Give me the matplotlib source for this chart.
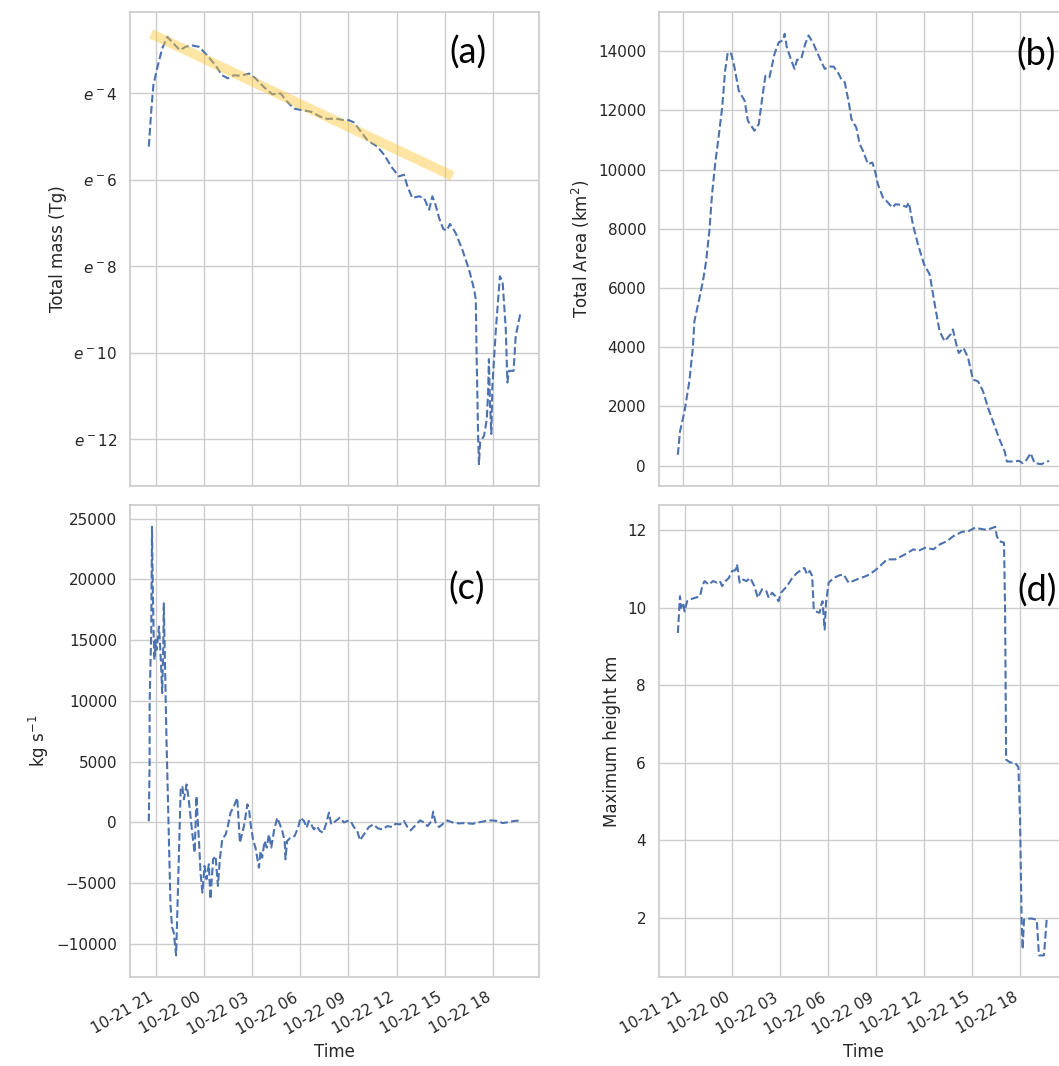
import numpy as np
import matplotlib
matplotlib.use("Agg")
import matplotlib.pyplot as plt
import matplotlib.dates as mdates
from matplotlib.ticker import MultipleLocator, FuncFormatter
import seaborn as sns

# ---------------------------------------------------------------------------
# Data (hours after 2019-10-21 21:00)
# ---------------------------------------------------------------------------
mass_hours = [-0.42, -0.27, -0.14, 0.10, 0.42, 0.73, 1.04, 1.51, 1.87, 2.28, 2.70,
              3.22, 3.73, 4.15, 4.50, 4.87, 5.29, 5.81, 6.22, 6.74, 7.26, 7.78,
              8.19, 8.61, 9.02, 9.65, 10.27, 10.68, 11.20, 11.72, 12.03, 12.34,
              12.76, 13.17, 13.80, 14.21, 14.73, 15.14, 15.45, 15.66, 15.97,
              16.39, 16.70, 17.01, 17.22, 17.42, 17.63, 17.90, 18.11, 18.31,
              18.67, 19.09, 19.50, 19.81, 19.91, 19.97, 20.06, 20.12, 20.18,
              20.43, 20.60, 20.68, 20.74, 20.80, 20.89, 20.95, 21.16, 21.41,
              21.58, 21.78, 21.89, 21.99, 22.26, 22.40, 22.71]
ln_mass = [-5.23, -4.42, -3.81, -3.42, -2.96, -2.69, -2.81, -3.00, -2.92, -2.89, -2.92,
           -3.12, -3.35, -3.58, -3.65, -3.58, -3.59, -3.54, -3.65, -3.85, -4.02, -4.00,
           -4.19, -4.35, -4.38, -4.42, -4.54, -4.59, -4.58, -4.62, -4.62, -4.67,
           -4.88, -5.08, -5.23, -5.42, -5.73, -5.92, -5.88, -6.15, -6.42,
           -6.38, -6.42, -6.69, -6.38, -6.58, -6.88, -7.14, -7.17, -7.02,
           -7.23, -7.62, -8.08, -8.54, -8.77, -10.00, -12.00, -12.58, -12.08,
           -11.92, -11.54, -10.92, -10.15, -11.15, -11.88, -10.77, -9.46, -8.23,
           -8.35, -9.46, -10.69, -10.42, -10.42, -9.62, -9.04]

# exponential decay guide for the mass panel
fit_hours = [-0.27, 18.46]
fit_ln_mass = [-2.62, -5.91]

area_hours = [-0.35, -0.21, 0.06, 0.37, 0.58, 0.69, 1.00, 1.21, 1.42, 1.62, 1.79,
              2.00, 2.21, 2.42, 2.60, 2.77, 2.98, 3.19, 3.45, 3.81, 4.02, 4.43,
              4.70, 4.95, 5.12, 5.37, 5.68, 5.95, 6.20, 6.31, 6.45, 6.73, 6.93,
              7.08, 7.35, 7.60, 7.81, 8.12, 8.39, 8.81, 9.12, 9.37, 9.64, 9.85,
              10.06, 10.33, 10.48, 10.79, 11.00, 11.20, 11.51, 11.78, 11.93,
              12.14, 12.45, 12.76, 13.04, 13.24, 13.60, 13.91, 14.07, 14.32,
              14.63, 15.01, 15.37, 15.68, 15.99, 16.30, 16.66, 16.82, 17.03,
              17.19, 17.49, 17.76, 18.07, 18.38, 18.70, 19.01, 19.32, 19.74,
              20.05, 20.19, 20.57, 20.94, 21.19, 21.41, 21.66, 21.92, 22.34,
              22.61, 22.82]
area_km2 = [362, 1152, 1829, 2846, 3974, 4878, 5667, 6233, 6911, 7927, 9170,
            10298, 11202, 12104, 13347, 13967, 13912, 13459, 12669, 12330, 11653, 11314,
            11540, 12557, 13177, 13120, 13912, 14306, 14363, 14590, 14136, 13685, 13404,
            13709, 13743, 14251, 14533, 14251, 13912, 13404, 13482, 13482, 13290, 13064,
            12951, 12219, 11711, 11427, 10864, 10637, 10186, 10240, 10017,
            9509, 9055, 8886, 8717, 8830, 8808, 8740, 8886, 8154,
            7476, 6799, 6460, 5444, 4539, 4201, 4427, 4597, 4089,
            3804, 3974, 3635, 2903, 2846, 2507, 1941, 1491, 871,
            474, 136, 136, 158, 79, 192, 417, 79, 45,
            113, 158]

flux_hours = [-0.42, -0.37, -0.36, -0.31, -0.27, -0.21, -0.17, -0.11, -0.06, 0.00,
              0.06, 0.21, 0.27, 0.35, 0.42, 0.48, 0.52, 0.58, 0.68, 0.83, 0.93,
              1.04, 1.14, 1.28, 1.56, 1.66, 1.76, 1.93, 2.07, 2.28, 2.43, 2.55,
              2.63, 2.70, 2.80, 2.91, 3.05, 3.17, 3.32, 3.42, 3.59, 3.73, 3.88,
              4.00, 4.15, 4.36, 4.50, 4.67, 4.88, 5.08, 5.25, 5.50, 5.71, 5.81,
              5.91, 6.08, 6.22, 6.43, 6.53, 6.64, 6.78, 6.91, 7.05, 7.20, 7.36,
              7.57, 7.73, 7.88, 8.03, 8.09, 8.19, 8.40, 8.65, 8.86, 9.02, 9.23,
              9.40, 9.54, 9.69, 9.85, 10.02, 10.23, 10.44, 10.64, 10.79, 10.93,
              11.20, 11.47, 11.72, 11.93, 12.13, 12.34, 12.55, 12.71, 12.96,
              13.27, 13.55, 13.83, 14.11, 14.42, 14.73, 14.94, 15.20, 15.45,
              15.66, 15.87, 16.18, 16.45, 16.70, 16.91, 17.16, 17.26, 17.42,
              17.63, 17.84, 18.15, 18.46, 18.87, 19.29, 19.71, 20.12, 20.54,
              20.89, 21.26, 21.58, 21.89, 22.30, 22.71]
flux_kg_s = [100, 4900, 9550, 12840, 15570, 24330, 19130, 15570, 13390, 15030,
             14210, 16120, 15030, 12840, 10650, 14480, 18030, 13390, 6820, -1390, -6860,
             -8640, -9050, -10940, 2720, 2990, 1900, 3130, 1900, -840, -2490, 2170,
             0, -1390, -4130, -5770, -3580, -4670, -3440, -6310, -3030, -2760, -5220,
             -3030, -1390, -980, -300, 800, 1350, 2030, -1670, -300, 1490, 1080,
             -160, -1530, -2070, -3720, -2350, -2900, -1530, -2070, -980, -2070, -710,
             390, -160, -710, -1530, -3030, -1530, -1250, -1120, -430, 390, 120,
             -430, 120, -160, -570, -300, -710, -840, 0, 800, -160,
             120, 390, 0, 120, 120, -380, -710, -1470, -980,
             -380, -160, -490, -570, -300, -380, -110, -160, 120,
             -380, -650, -210, 170, 0, -300, 120, 880, 0,
             -380, -160, 170, 0, -80, -50, -110, 10, 120,
             170, 120, -50, 10, 120, 170]

height_hours = [-0.42, -0.29, -0.21, -0.08, 0.00, 0.17, 0.37, 0.69, 0.96, 1.11, 1.25,
                1.52, 1.79, 2.04, 2.21, 2.35, 2.56, 2.77, 2.98, 3.19, 3.29, 3.45,
                3.66, 3.87, 4.12, 4.37, 4.58, 4.85, 5.12, 5.27, 5.48, 5.68, 5.89,
                6.04, 6.41, 6.73, 7.04, 7.35, 7.50, 7.66, 7.83, 7.98, 8.08, 8.18,
                8.45, 8.56, 8.64, 8.70, 8.77, 8.85, 9.01, 9.33, 9.70, 9.95, 10.26,
                10.54, 10.89, 11.24, 11.57, 11.93, 12.24, 12.66, 13.18, 13.80,
                14.32, 14.64, 15.05, 15.57, 15.99, 16.41, 16.82, 17.35, 17.76,
                18.18, 18.49, 18.91, 19.43, 19.53, 19.70, 19.99, 20.05, 20.11,
                20.36, 20.67, 20.88, 20.99, 21.09, 21.15, 21.24, 21.40, 21.72,
                22.03, 22.17, 22.49, 22.65, 22.80]
height_km = [9.35, 10.30, 10.00, 10.13, 9.91, 10.17, 10.22, 10.26, 10.30, 10.56, 10.69,
             10.60, 10.69, 10.65, 10.69, 10.56, 10.69, 10.77, 10.95, 10.97, 11.12, 10.65,
             10.73, 10.69, 10.77, 10.56, 10.26, 10.48, 10.43, 10.26, 10.39, 10.30, 10.17,
             10.39, 10.56, 10.77, 10.90, 10.99, 11.03, 10.86, 10.95, 10.82, 9.96, 9.91,
             9.87, 10.09, 10.17, 9.78, 9.44, 10.13, 10.65, 10.77, 10.84, 10.86, 10.65,
             10.69, 10.75, 10.80, 10.86, 10.97, 11.08, 11.25, 11.25, 11.38,
             11.51, 11.47, 11.55, 11.51, 11.64, 11.72, 11.85, 11.96, 11.98,
             12.07, 12.04, 12.01, 12.09, 11.85, 11.72, 11.68, 9.96, 6.08,
             6.01, 6.00, 5.89, 4.62, 1.95, 1.19, 1.95, 1.98, 1.98,
             1.95, 1.03, 1.03, 1.95, 2.00]

START = np.datetime64("2019-10-21T21:00")


def to_time(hours):
    minutes = np.round(np.asarray(hours, dtype=float) * 60).astype("int64")
    return START + minutes.astype("timedelta64[m]")


# ---------------------------------------------------------------------------
# Style
# ---------------------------------------------------------------------------
sns.set_theme(style="whitegrid")
plt.rcParams["font.family"] = ["DejaVu Sans"]

W, H = 1059, 1066
fig = plt.figure(figsize=(W / 100, H / 100), dpi=100)


def rect(left, top, right, bottom):
    return [left / W, 1 - bottom / H, (right - left) / W, (bottom - top) / H]


ax_a = fig.add_axes(rect(130.2, 12.3, 539.4, 485.7))
ax_b = fig.add_axes(rect(659.3, 12.3, 1067.6, 485.7))
ax_c = fig.add_axes(rect(130.2, 505.4, 539.4, 976.8))
ax_d = fig.add_axes(rect(659.3, 505.4, 1067.6, 976.8))

line_kw = dict(color="#4C72B0", linestyle="--", linewidth=1.5)

# (a) total mass on a natural-log axis
ax_a.plot(to_time(mass_hours), ln_mass, **line_kw)
ax_a.plot(to_time(fit_hours), fit_ln_mass, color=(1.0, 0.78, 0.2), alpha=0.45,
          linewidth=7, solid_capstyle="butt", zorder=3)
ax_a.yaxis.set_major_locator(MultipleLocator(2))
ax_a.yaxis.set_major_formatter(FuncFormatter(lambda v, p: f"$e^{int(round(v))}$"))
ax_a.set_ylabel("Total mass (Tg)")

# (b) total area
ax_b.plot(to_time(area_hours), area_km2, **line_kw)
ax_b.yaxis.set_major_locator(MultipleLocator(2000))
ax_b.set_ylabel("Total Area (km$^2$)")

# (c) mass flux
ax_c.plot(to_time(flux_hours), flux_kg_s, **line_kw)
ax_c.yaxis.set_major_locator(MultipleLocator(5000))
ax_c.set_ylabel("kg s$^{-1}$")

# (d) maximum height
ax_d.plot(to_time(height_hours), height_km, **line_kw)
ax_d.yaxis.set_major_locator(MultipleLocator(2))
ax_d.set_ylabel("Maximum height km")

for ax in (ax_a, ax_b, ax_c, ax_d):
    ax.xaxis.set_major_locator(mdates.HourLocator(byhour=range(0, 24, 3)))
    ax.xaxis.set_major_formatter(mdates.DateFormatter("%m-%d %H"))

for ax in (ax_a, ax_b):
    ax.tick_params(labelbottom=False)

for ax in (ax_c, ax_d):
    ax.set_xlabel("Time")
    for lbl in ax.get_xticklabels():
        lbl.set_rotation(30)
        lbl.set_horizontalalignment("right")

# panel letters
for letter, (px, py) in {"(a)": (468, 53), "(b)": (1036, 55),
                         "(c)": (467, 589), "(d)": (1037, 591)}.items():
    fig.text(px / W, 1 - py / H, letter, ha="center", va="center",
             fontsize=26, family=["Lato", "DejaVu Sans"], color="black")

fig.savefig("out.png", dpi=100)
